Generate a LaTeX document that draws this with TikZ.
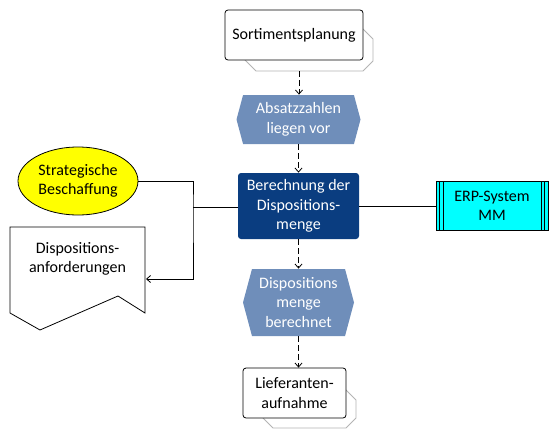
\documentclass[tikz,border=0pt]{standalone}
\usepackage{fontspec}
\setmainfont{Carlito}
\usepackage{tikz}
\usetikzlibrary{arrows.meta,shapes.geometric,shapes.symbols}
\usepackage{xcolor}
\definecolor{EventBlue}{HTML}{6F8EBA}
\definecolor{FuncBlue}{HTML}{0A3D80}
\definecolor{OrgYellow}{HTML}{FFFF00}
\definecolor{SysCyan}{HTML}{00FFFF}
\definecolor{ShadowGrey}{HTML}{B4B4B4}

\begin{document}
\begin{tikzpicture}[x=1pt,y=-1pt,line width=0.8pt,
    font=\fontsize{16}{19.5}\selectfont,
    flow/.style={dashed,dash pattern=on 6pt off 3pt,-{Straight Barb[length=4pt,width=7pt]}},
    taskbox/.style={draw,rounded corners=3pt,fill=white,align=center,inner sep=0pt},
    taskshadow/.style={draw=ShadowGrey,fill=white},
    event/.style={signal,signal to=east and west,signal pointer angle=150,fill=EventBlue,
      text=white,align=center,inner sep=0pt},
    function/.style={rounded corners=3pt,fill=FuncBlue,text=white,align=center,inner sep=0pt},
    orgunit/.style={ellipse,draw,fill=OrgYellow,align=center,inner sep=0pt},
    appsystem/.style={draw,fill=SysCyan,align=center,inner sep=0pt,
      path picture={
        \foreach \dx in {3.5,7}{
          \draw ([xshift=\dx]path picture bounding box.north west)--([xshift=\dx]path picture bounding box.south west);
          \draw ([xshift=-\dx]path picture bounding box.north east)--([xshift=-\dx]path picture bounding box.south east);
        }}}]
  \useasboundingbox (0,0) rectangle (559,439);

  % Kette von oben nach unten
  \draw[taskshadow] (245,29)--(363,29)--(373,39)--(373,61)--(363,71)--(256,71)--(245,60)--cycle;
  \node[taskbox,minimum width=138,minimum height=50] (sort) at (294,35) {Sortimentsplanung};
  \coordinate (sortfoot) at (299,71);
  \node[event,minimum width=124,minimum height=49] (absatz) at (298.5,119.5) {Absatzzahlen\\liegen vor};
  \node[function,minimum width=121,minimum height=66] (berech) at (298.5,206)
    {Berechnung der\\Dispositions-\\menge};
  \node[event,minimum width=111,minimum height=67] (dispo) at (298.5,302.5)
    {Dispositions\\menge\\berechnet};
  \draw[taskshadow] (263,390)--(346,390)--(356,400)--(356,418)--(346,428)--(273,428)--(263,418)--cycle;
  \node[taskbox,minimum width=103,minimum height=50] (lief) at (294.5,393) {Lieferanten-\\aufnahme};

  % links und rechts
  \node[orgunit,minimum width=120,minimum height=68] (strat) at (78,181) {Strategische\\Beschaffung};
  \draw[fill=white] (10,227)--(145,227)--(145,313)--(118,296)--(40,330)--(10,313)--cycle;
  \node[align=center] (doc) at (77.5,259) {Dispositions-\\anforderungen};
  \node[appsystem,minimum width=112,minimum height=49] (erp) at (492,206) {ERP-System\\MM};

  \draw[flow] (sortfoot)--(sortfoot |- absatz.north);
  \draw[flow] (absatz.south)--(berech.north);
  \draw[flow] (berech.south)--(dispo.north);
  \draw[flow] (dispo.south)--(dispo.south |- lief.north);

  \coordinate (join) at (193,207);
  \coordinate (docin) at (146,279);
  \draw[-{Straight Barb[length=4pt,width=7pt]}] (strat.east)-|(join)|-(docin);
  \draw (join)--(join -| berech.west);
  \draw (berech.east)--(erp.west);
\end{tikzpicture}
\end{document}
